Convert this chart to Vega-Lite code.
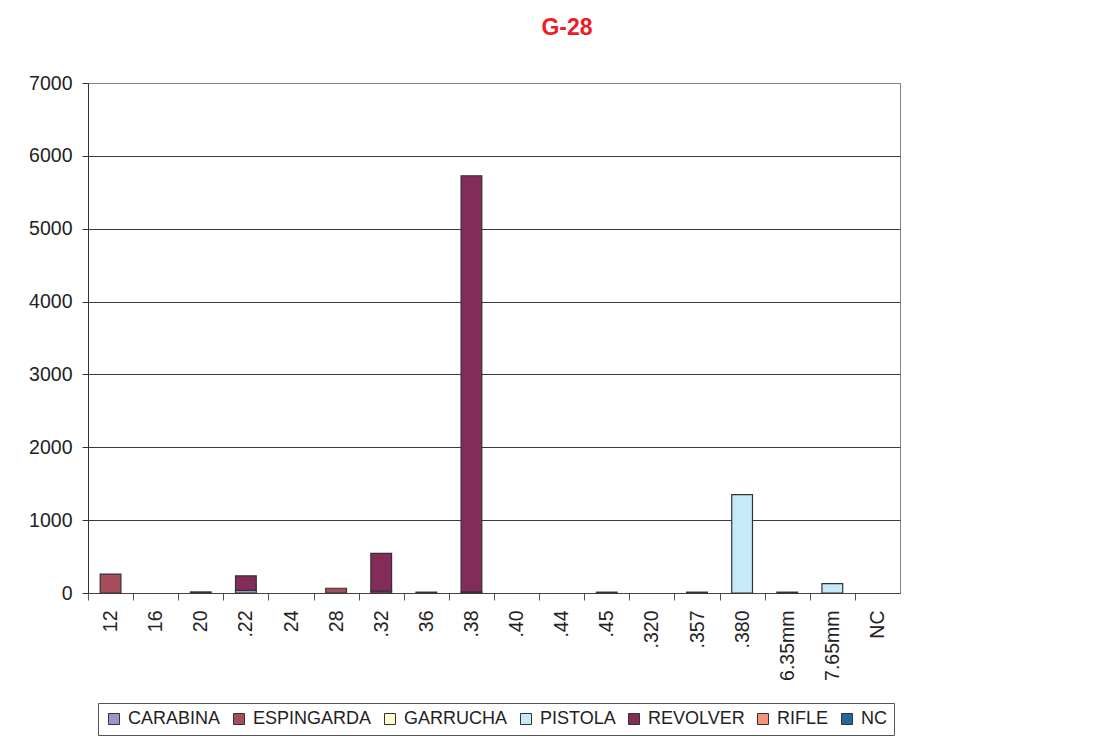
{
  "$schema": "https://vega.github.io/schema/vega-lite/v6.json",
  "width": 812,
  "height": 510,
  "autosize": {"type": "none"},
  "padding": {"left": 88, "top": 83, "right": 212, "bottom": 144},
  "background": "white",
  "title": {"text": "G-28", "color": "#ee1c25", "fontSize": 23, "fontWeight": "bold", "font": "Liberation Sans", "anchor": "middle", "frame": "group", "dx": 73, "offset": 33},
  "config": {"view": {"stroke": "#8a8585", "strokeWidth": 1}, "font": "Liberation Sans"},
  "data": {"values": [
    {"calibre": "12", "tipo": "ESPINGARDA", "orden": 2, "valor": 260},
    {"calibre": "20", "tipo": "REVOLVER", "orden": 5, "valor": 15},
    {"calibre": ".22", "tipo": "CARABINA", "orden": 1, "valor": 35},
    {"calibre": ".22", "tipo": "REVOLVER", "orden": 5, "valor": 200},
    {"calibre": "28", "tipo": "ESPINGARDA", "orden": 2, "valor": 65},
    {"calibre": ".32", "tipo": "ESPINGARDA", "orden": 2, "valor": 25},
    {"calibre": ".32", "tipo": "REVOLVER", "orden": 5, "valor": 520},
    {"calibre": "36", "tipo": "REVOLVER", "orden": 5, "valor": 12},
    {"calibre": ".38", "tipo": "ESPINGARDA", "orden": 2, "valor": 15},
    {"calibre": ".38", "tipo": "REVOLVER", "orden": 5, "valor": 5712},
    {"calibre": ".45", "tipo": "PISTOLA", "orden": 4, "valor": 12},
    {"calibre": ".357", "tipo": "REVOLVER", "orden": 5, "valor": 12},
    {"calibre": ".380", "tipo": "PISTOLA", "orden": 4, "valor": 1350},
    {"calibre": "6.35mm", "tipo": "PISTOLA", "orden": 4, "valor": 12},
    {"calibre": "7.65mm", "tipo": "PISTOLA", "orden": 4, "valor": 128}
  ]},
  "mark": {"type": "bar", "stroke": "#333333", "strokeWidth": 1.2},
  "encoding": {
    "x": {
      "field": "calibre", "type": "nominal", "sort": null,
      "scale": {"domain": ["12", "16", "20", ".22", "24", "28", ".32", "36", ".38", ".40", ".44", ".45", ".320", ".357", ".380", "6.35mm", "7.65mm", "NC"], "paddingInner": 0.54, "paddingOuter": 0.27},
      "axis": {"title": null, "labelAngle": -90, "labelFontSize": 19.5, "labelColor": "#222222", "tickOffset": -22.55, "labelOffset": 22.55, "tickSize": 7, "tickColor": "#555555", "domainColor": "#444444", "labelPadding": 10, "grid": false}
    },
    "y": {
      "field": "valor", "type": "quantitative", "stack": "zero",
      "scale": {"domain": [0, 7000], "nice": false},
      "axis": {"title": null, "format": "d", "values": [0, 1000, 2000, 3000, 4000, 5000, 6000, 7000], "grid": true,
        "gridColor": {"condition": {"test": "datum.value == 7000", "value": "#8a8585"}, "value": "#3a3a3a"},
        "tickSize": 6, "labelPadding": 10, "labelFontSize": 19.5, "labelColor": "#222222", "domainColor": "#333333", "tickColor": "#333333"}
    },
    "color": {
      "field": "tipo", "type": "nominal",
      "scale": {"domain": ["CARABINA", "ESPINGARDA", "GARRUCHA", "PISTOLA", "REVOLVER", "RIFLE", "NC"], "range": ["#9a95cc", "#a64d5c", "#fffcd2", "#c8e9f8", "#832c5a", "#f4937a", "#1f6a9b"]},
      "legend": {"title": null, "orient": "none", "legendX": 10, "legendY": 620, "direction": "horizontal", "columns": 7, "symbolType": "square", "symbolSize": 121, "symbolStrokeColor": "#333333", "symbolStrokeWidth": 1, "symbolOpacity": 1, "labelFontSize": 18, "labelColor": "#222222", "labelOffset": 5, "columnPadding": 9, "strokeColor": "#555555", "padding": 7, "labelLimit": 300}
    },
    "order": {"field": "orden", "type": "quantitative"}
  }
}
